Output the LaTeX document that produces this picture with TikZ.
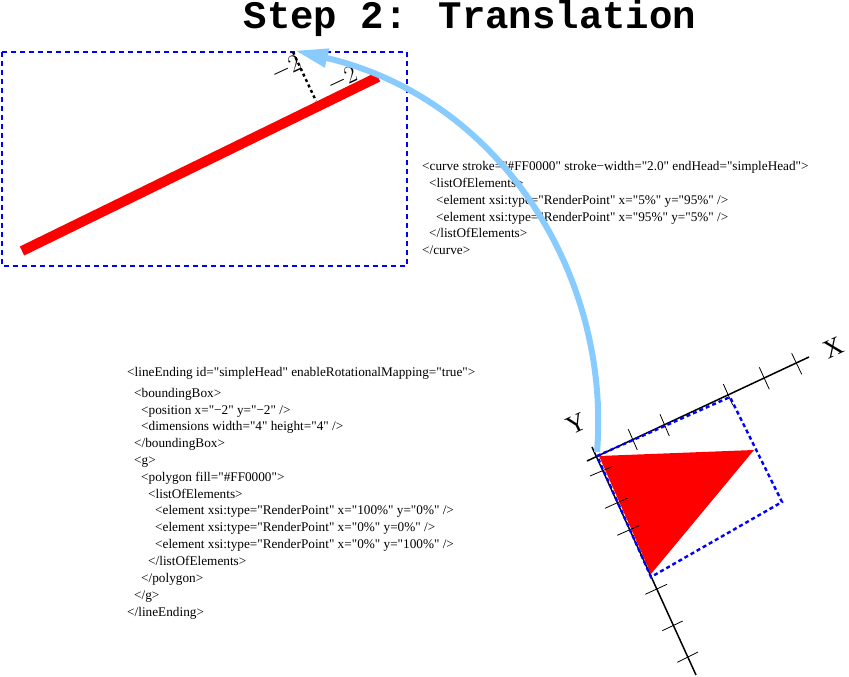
\documentclass[tikz,border=0pt]{standalone}
\usepackage{fontspec}
\usepackage{xcolor}
\usetikzlibrary{arrows.meta}
\setmainfont{Liberation Serif}
\newfontfamily\xmlfont{Liberation Serif}
\newfontfamily\titlefont{Liberation Mono}
\definecolor{bboxblue}{HTML}{0000FF}
\definecolor{headred}{HTML}{FF0000}
\definecolor{skyarrow}{HTML}{88CCFF}
\tikzset{
xmlline/.style={anchor=base west,inner sep=0pt,font=\xmlfont\fontsize{13.25}{15}\selectfont},
axislabel/.style={inner sep=0pt,rotate=25,font=\fontsize{26}{28}\selectfont},
bboxline/.style={draw=bboxblue,line width=2pt,dash pattern=on 5pt off 4pt},
bboxtight/.style={draw=bboxblue,line width=2.4pt,dash pattern=on 4pt off 3pt},
}
\begin{document}
\begin{tikzpicture}[x=1pt,y=-1pt]
\useasboundingbox (0,0) rectangle (849,677);
\node[anchor=base,inner sep=0pt,font=\titlefont\bfseries\fontsize{39}{41}\selectfont] (title) at (470,29) {Step 2: Translation};
% curve with its box
\draw[bboxline] (2,52) rectangle (407,266);
\coordinate (curvestart) at (22,251);
\coordinate (curveend) at (378,77);
\draw[headred,line width=10pt] (curvestart)--(curveend);
\coordinate (boxcorner) at (293,52);
\coordinate (curvefoot) at (316,101);
\draw[line width=2.4pt,dash pattern=on 3pt off 3pt] (boxcorner)--(curvefoot);
\node[axislabel] (offsetx) at (286,69) {$-2$};
\node[axislabel] (offsety) at (342,80) {$-2$};
% xml of the curve
\node[xmlline] (curve1) at (422,170) {<curve stroke="\#FF0000" stroke−width="2.0" endHead="simpleHead">};
\node[xmlline] (curve2) at (429,187) {<listOfElements>};
\node[xmlline] (curve3) at (436,204) {<element xsi:type="RenderPoint" x="5\%" y="95\%" />};
\node[xmlline] (curve4) at (436,221) {<element xsi:type="RenderPoint" x="95\%" y="5\%" />};
\node[xmlline] (curve5) at (429,237) {</listOfElements>};
\node[xmlline] (curve6) at (422,254) {</curve>};
% xml of the line ending
\node[xmlline] (end1) at (127,376) {<lineEnding id="simpleHead" enableRotationalMapping="true">};
\node[xmlline] (end2) at (134,397) {<boundingBox>};
\node[xmlline] (end3) at (141,414) {<position x="−2" y="−2" />};
\node[xmlline] (end4) at (141,430) {<dimensions width="4" height="4" />};
\node[xmlline] (end5) at (134,447) {</boundingBox>};
\node[xmlline] (end6) at (134,464) {<g>};
\node[xmlline] (end7) at (141,481) {<polygon fill="\#FF0000">};
\node[xmlline] (end8) at (148,498) {<listOfElements>};
\node[xmlline] (end9) at (155,514) {<element xsi:type="RenderPoint" x="100\%" y="0\%" />};
\node[xmlline] (end10) at (155,531) {<element xsi:type="RenderPoint" x="0\%" y=0\%" />};
\node[xmlline] (end11) at (155,548) {<element xsi:type="RenderPoint" x="0\%" y="100\%" />};
\node[xmlline] (end12) at (148,565) {</listOfElements>};
\node[xmlline] (end13) at (141,582) {</polygon>};
\node[xmlline] (end14) at (134,599) {</g>};
\node[xmlline] (end15) at (127,616) {</lineEnding>};
% rotated axes
\coordinate (xstart) at (587,461);
\coordinate (xend) at (809,357);
\coordinate (ystart) at (592,447);
\coordinate (yend) at (696,675);
\fill[headred] (599,456)--(754,450)--(651,574)--cycle;
\draw[line width=1.5pt] (xstart)--(xend);
\draw[line width=1.5pt] (ystart)--(yend);
\foreach \ax/\ay/\bx/\by in {628.3/429.3/637.3/450,660/414.3/669.3/436,723.3/384/732.7/405,759.3/367.3/769.3/389.3,791.7/353.3/801.7/374.3,
590/476/612/466.7,605/508.3/627.3/498.3,617.3/535.3/639/525.7,645.3/594.3/667/584.3,662.3/630.7/682.7/621,677.3/662.3/698/652}{
\draw[line width=.8pt] (\ax,\ay)--(\bx,\by);}
\draw[bboxtight] (597,456)--(730,397)--(782,502)--(651,577)--cycle;
\node[axislabel] (xlabel) at (833,348) {X};
\node[axislabel] (ylabel) at (576,424) {Y};
% move arrow
\coordinate (movestart) at (597,452);
\coordinate (moveend) at (295,50.5);
\draw[-{Triangle[length=33pt,width=18pt]},skyarrow,line width=6pt] (movestart) .. controls (611,280) and (505,100) .. (moveend);
\end{tikzpicture}
\end{document}
